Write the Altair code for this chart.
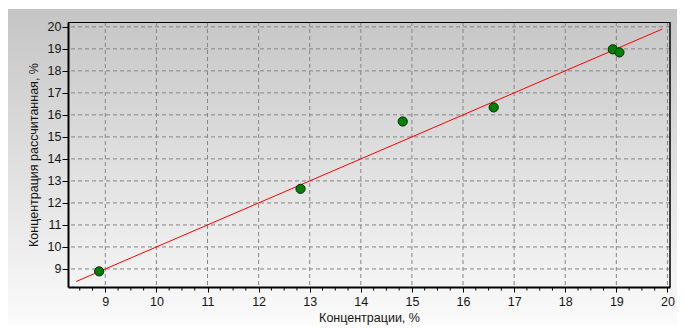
import altair as alt
import pandas as pd

# ---- data ----
x_measured = [8.88, 12.82, 14.82, 16.60, 18.93, 19.06]
y_calculated = [8.89, 12.64, 15.70, 16.34, 18.98, 18.84]
line_x = [8.43, 19.90]
line_y = [8.43, 19.90]
major_ticks = [9, 10, 11, 12, 13, 14, 15, 16, 17, 18, 19, 20]
x_minor_ticks = [t + f for t in [8, 9, 10, 11, 12, 13, 14, 15, 16, 17, 18, 19]
                 for f in (0.25, 0.5, 0.75) if 8.3 < t + f < 20]

X_DOMAIN = [8.27, 20.05]
Y_DOMAIN = [8.18, 20.22]
W, H = 602, 265
FONT = "Liberation Sans"
TXT = "#151515"
FS = 12.5

pts = pd.DataFrame({"x": x_measured, "y": y_calculated})
line_df = pd.DataFrame({"x": line_x, "y": line_y})
major_df = pd.DataFrame({"v": major_ticks})
minor_df = pd.DataFrame({"v": x_minor_ticks})
one = pd.DataFrame({"a": [0]})

xs = alt.Scale(domain=X_DOMAIN, nice=False, zero=False)
ys = alt.Scale(domain=Y_DOMAIN, nice=False, zero=False)

common = dict(
    grid=False, tickColor="black", domainColor="black", domainWidth=2,
    zindex=1, format="d", labelFont=FONT, titleFont=FONT,
    labelFontSize=FS, titleFontSize=FS, labelColor=TXT, titleColor=TXT,
    titleFontWeight="normal", values=major_ticks,
)
x_axis = alt.Axis(title="Концентрации, %", tickSize=5, labelPadding=3,
                  titlePadding=4, **common)
y_axis = alt.Axis(title="Концентрация рассчитанная, %", tickSize=6,
                  labelPadding=1, titlePadding=7, **common)

bg = alt.Chart(one).mark_rect(
    fill=alt.Gradient(
        gradient="linear",
        stops=[alt.GradientStop(color="#c5c5c5", offset=0),
               alt.GradientStop(color="#fbfbfb", offset=1)],
        x1=0, x2=0, y1=0, y2=1,
    )
).encode(x=alt.value(-60), x2=alt.value(W + 7), y=alt.value(-13), y2=alt.value(H + 38))

grid_v = alt.Chart(major_df).mark_rule(
    stroke="#858585", strokeDash=[4, 3], strokeWidth=1
).encode(x=alt.X("v:Q", scale=xs, axis=x_axis))

grid_h = alt.Chart(major_df).mark_rule(
    stroke="#858585", strokeDash=[4, 3], strokeWidth=1
).encode(y=alt.Y("v:Q", scale=ys, axis=y_axis))

minor = alt.Chart(minor_df).mark_rule(stroke="black", strokeWidth=1).encode(
    x=alt.X("v:Q", scale=xs, axis=x_axis),
    y=alt.value(H + 1),
    y2=alt.value(H + 3.5),
)

frame_top = alt.Chart(one).mark_rule(stroke="black", strokeWidth=1).encode(
    x=alt.value(0), x2=alt.value(W), y=alt.value(0.5)
)
frame_right = alt.Chart(one).mark_rule(stroke="black", strokeWidth=1.5).encode(
    x=alt.value(W), y=alt.value(0), y2=alt.value(H)
)

fit = alt.Chart(line_df).mark_line(color="#ff0000", strokeWidth=1).encode(
    x=alt.X("x:Q", scale=xs, axis=x_axis),
    y=alt.Y("y:Q", scale=ys, axis=y_axis),
)

points = alt.Chart(pts).mark_point(
    shape="circle", filled=True, size=85, fill="#008000",
    stroke="#0a280a", strokeWidth=1, opacity=1,
).encode(
    x=alt.X("x:Q", scale=xs, axis=x_axis),
    y=alt.Y("y:Q", scale=ys, axis=y_axis),
)

chart = alt.layer(bg, grid_v, grid_h, minor, fit, points, frame_top, frame_right).properties(
    width=W, height=H,
    background="white",
    autosize=alt.AutoSizeParams(type="none"),
    padding={"left": 60, "top": 14, "right": 7, "bottom": 38},
).configure_view(stroke=None, fill=None)

chart.save("out.html", embed_options={"renderer": "svg", "actions": False})
